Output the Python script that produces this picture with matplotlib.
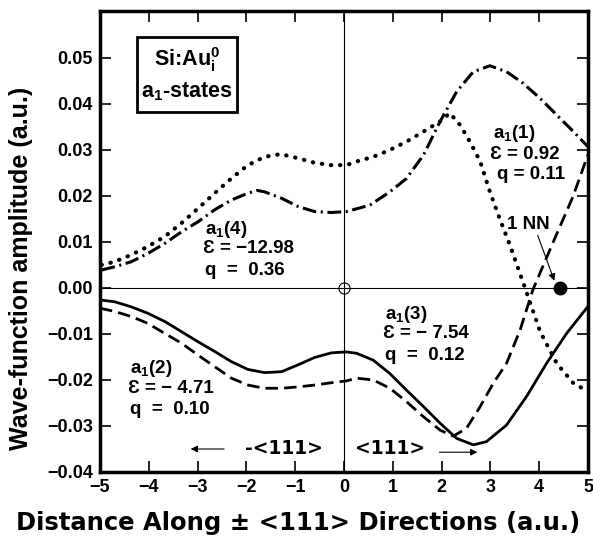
import matplotlib
matplotlib.use("Agg")
import matplotlib.pyplot as plt
from matplotlib.patches import Rectangle

plt.rcParams['font.family'] = ['Liberation Sans', 'DejaVu Sans']
plt.rcParams['font.weight'] = 'bold'
plt.rcParams['axes.labelweight'] = 'bold'
plt.rcParams['mathtext.fontset'] = 'custom'
plt.rcParams['mathtext.rm'] = 'Liberation Sans:bold'
plt.rcParams['mathtext.it'] = 'Liberation Sans:bold'
plt.rcParams['mathtext.bf'] = 'Liberation Sans:bold'

# a1(4) - dotted
x_a4 = [-4.97, -4.70, -4.36, -4.02, -3.67, -3.33, -2.99, -2.65, -2.31, -1.97, -1.63, -1.30,
        -0.94, -0.60, -0.26, 0.05, 0.26, 0.60, 0.94, 1.28, 1.63, 1.97, 2.17, 2.38, 2.58,
        2.79, 2.99, 3.2, 3.4, 3.71, 4.02, 4.36, 4.70, 5.0]
y_a4 = [0.0050, 0.0057, 0.0072, 0.0090, 0.0112, 0.0141, 0.0173, 0.0206, 0.0238, 0.0267, 0.0285, 0.0291,
        0.0282, 0.0272, 0.0267, 0.0267, 0.0275, 0.0285, 0.0300, 0.0318, 0.0340, 0.0362, 0.0380, 0.0354, 0.0318,
        0.0275, 0.0209, 0.0148, 0.0093, 0.0000, -0.0095, -0.0164, -0.0207, -0.0225]

# a1(1) - dash-dot
x_a1 = [-4.97, -4.70, -4.36, -4.02, -3.67, -3.33, -2.99, -2.65, -2.31, -1.97, -1.78, -1.63,
        -1.28, -0.94, -0.60, -0.26, 0.05, 0.53, 0.94, 1.28, 1.63, 1.97, 2.31, 2.65, 2.99,
        3.33, 3.67, 4.02, 4.36, 4.70, 5.0]
y_a1 = [0.0039, 0.0046, 0.0057, 0.0075, 0.0097, 0.0122, 0.0144, 0.0170, 0.0191, 0.0206, 0.0212, 0.0209,
        0.0195, 0.0177, 0.0166, 0.0164, 0.0166, 0.0180, 0.0209, 0.0238, 0.0289, 0.0362, 0.0427, 0.0470, 0.0483,
        0.0470, 0.0445, 0.0412, 0.0376, 0.0340, 0.0307]

# a1(2) - solid
x_a2 = [-5.0, -4.70, -4.36, -4.02, -3.67, -3.33, -2.99, -2.65, -2.31, -1.97, -1.63, -1.28,
        -0.94, -0.60, -0.26, 0.05, 0.26, 0.60, 0.94, 1.28, 1.63, 1.97, 2.31, 2.65, 2.92,
        3.33, 3.74, 4.15, 4.56, 5.0]
y_a2 = [-0.0026, -0.0030, -0.0041, -0.0055, -0.0073, -0.0095, -0.0117, -0.0138, -0.0160, -0.0177, -0.0184, -0.0182,
        -0.0167, -0.0151, -0.0141, -0.0139, -0.0142, -0.0157, -0.0186, -0.0222, -0.0258, -0.0294, -0.0327, -0.0341, -0.0334,
        -0.0298, -0.0236, -0.0164, -0.0099, -0.0040]

# a1(3) - dashed
x_a3 = [-5.0, -4.70, -4.36, -4.02, -3.67, -3.33, -2.99, -2.65, -2.31, -1.97, -1.63, -1.28,
        -0.94, -0.60, -0.26, 0.05, 0.26, 0.60, 0.94, 1.28, 1.63, 1.97, 2.24, 2.51, 2.79,
        3.06, 3.33, 3.61, 3.87, 4.28, 4.69, 5.0]
y_a3 = [-0.0044, -0.0051, -0.0062, -0.0077, -0.0099, -0.0120, -0.0146, -0.0171, -0.0196, -0.0211, -0.0218, -0.0218,
        -0.0215, -0.0211, -0.0206, -0.0202, -0.0196, -0.0200, -0.0218, -0.0247, -0.0280, -0.0309, -0.0322, -0.0305, -0.0258,
        -0.0207, -0.0164, -0.0091, -0.0004, 0.0098, 0.0198, 0.0290]

nn_x = 4.43
xticks = [-5, -4, -3, -2, -1, 0, 1, 2, 3, 4, 5]
yticks = [-0.04, -0.03, -0.02, -0.01, 0.00, 0.01, 0.02, 0.03, 0.04, 0.05]

fig = plt.figure(figsize=(5.93, 5.36), dpi=100)
ax = fig.add_axes([100 / 593, 1 - 472 / 536, 488 / 593, 461 / 536])

ax.axhline(0, color='black', lw=0.8)
ax.axvline(0, color='black', lw=0.8)
ax.plot([0], [0], 'o', mfc='none', mec='black', ms=8, mew=0.8)

ax.plot(x_a4, y_a4, color='black', lw=3.0, linestyle=(0, (0.1, 2.1)), dash_capstyle='round')
ax.plot(x_a1, y_a1, color='black', lw=2.2, linestyle=(0, (4.5, 1.5, 0.7, 1.5)))
ax.plot(x_a2, y_a2, color='black', lw=2.0)
ax.plot(x_a3, y_a3, color='black', lw=2.0, linestyle=(0, (4.5, 2.2)))

ax.plot([nn_x], [0], 'o', color='black', ms=9)
ax.annotate('', xy=(nn_x - 0.1, 0.001), xytext=(3.95, 0.0120),
            arrowprops=dict(arrowstyle='-|>', color='black', lw=0.8, mutation_scale=10))

ax.set_xlim(-5, 5)
ax.set_ylim(-0.04, 0.0602)
ax.set_xticks(xticks)
ax.set_yticks(yticks)
ax.set_xticklabels([str(t).replace('-', '\u2212') for t in xticks], fontweight='bold')
ax.set_yticklabels([('%.2f' % t).replace('-', '\u2212') for t in yticks], fontweight='bold')
ax.tick_params(direction='in', length=8, width=1.2, labelsize=13, top=True, right=True, pad=5)
for s in ax.spines.values():
    s.set_linewidth(2.5)

ax.set_xlabel('Distance Along \u00b1 <111> Directions (a.u.)', fontsize=17.5, fontweight='bold',
              family='DejaVu Sans')
ax.xaxis.set_label_coords(0.405, -0.085)
ax.set_ylabel('Wave-function amplitude (a.u.)', fontsize=18, fontweight='bold')
ax.yaxis.set_label_coords(-0.137, 0.4425)

fs = 13.5
def label(x, y0, name, eps, q):
    ax.text(x, y0, name, fontsize=fs, va='center')
    ax.text(x - 0.04, y0 - 0.0043, '\u0190 = ' + eps, fontsize=fs, va='center')
    ax.text(x, y0 - 0.0089, 'q  =  ' + q, fontsize=fs, va='center')

label(-2.85, 0.0128, 'a$_1$(4)', '\u221212.98', '0.36')
label(-4.39, -0.0176, 'a$_1$(2)', '\u2212 4.71', '0.10')
label(0.84, -0.0057, 'a$_1$(3)', '\u2212 7.54', '0.12')
ax.text(3.05, 0.0335, 'a$_1$(1)', fontsize=fs, va='center')
ax.text(2.99, 0.0291, '\u0190 = 0.92', fontsize=fs, va='center')
ax.text(3.13, 0.0246, 'q = 0.11', fontsize=fs, va='center')
ax.text(3.34, 0.0137, '1 NN', fontsize=fs, va='center')

ax.text(-2.03, -0.035, '-<111>', fontsize=fs, va='center', family='DejaVu Sans')
ax.annotate('', xy=(-3.2, -0.035), xytext=(-2.4, -0.035),
            arrowprops=dict(arrowstyle='-|>', color='black', lw=0.8, mutation_scale=10))
ax.text(0.23, -0.035, '<111>', fontsize=fs, va='center', family='DejaVu Sans')
ax.annotate('', xy=(2.79, -0.0357), xytext=(1.9, -0.0357),
            arrowprops=dict(arrowstyle='-|>', color='black', lw=0.8, mutation_scale=10))

ax.add_patch(Rectangle((0.076, 0.781), 0.205, 0.163, transform=ax.transAxes,
                       fill=False, lw=2.0, edgecolor='black'))
ax.text(0.178, 0.895, 'Si:Au$^0_i$', transform=ax.transAxes, fontsize=15.5, ha='center', va='center')
ax.text(0.178, 0.826, 'a$_1$-states', transform=ax.transAxes, fontsize=15.5, ha='center', va='center')

fig.savefig('out.png', dpi=100)
